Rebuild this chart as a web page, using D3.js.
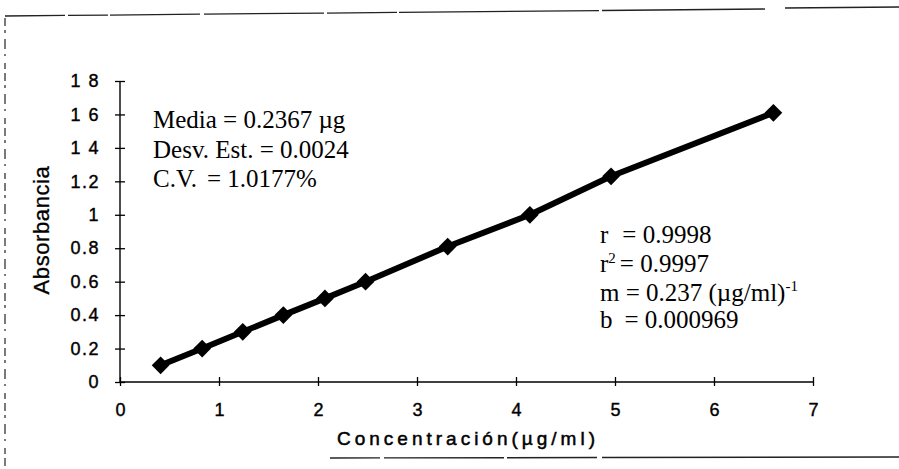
<!DOCTYPE html>
<html>
<head>
<meta charset="utf-8">
<script src="https://cdn.jsdelivr.net/npm/d3@7"></script>
<style>
  html, body { margin: 0; padding: 0; background: #fff; }
  svg { display: block; }
</style>
</head>
<body>
<svg id="chart" width="899" height="469"></svg>
<script>
// Calibration data: concentration (µg/ml) vs absorbance
const concentracion = [0.41, 0.83, 1.24, 1.65, 2.07, 2.48, 3.31, 4.14, 4.96, 6.60];
const absorbancia   = [0.10, 0.20, 0.30, 0.40, 0.50, 0.60, 0.81, 1.00, 1.23, 1.61];

const xTicks = [0, 1, 2, 3, 4, 5, 6, 7];
const yTicks = [0, 0.2, 0.4, 0.6, 0.8, 1, 1.2, 1.4, 1.6, 1.8];
const yTickLabels = ["0", "0.2", "0.4", "0.6", "0.8", "1", "1.2", "1 4", "1 6", "1 8"];

const statsLeft = ["Media = 0.2367 µg", "Desv. Est. = 0.0024", "C.V.  = 1.0177%"];

const svg = d3.select("#chart");
const sans = "Liberation Sans, Arial, sans-serif";
const serif = "Liberation Serif, Times New Roman, serif";

const x = d3.scaleLinear().domain([0, 7]).range([120, 813]);
const y = d3.scaleLinear().domain([0, 1.8]).range([382, 81]);

// Page frame (broken scanned border)
const frame = svg.append("g").attr("stroke", "#222").attr("fill", "none");
frame.append("line").attr("x1", 5).attr("y1", 16).attr("x2", 765).attr("y2", 9)
  .attr("stroke-width", 1.3).attr("stroke-dasharray", "60 3 40 2 90 4 120 3 70 2 200 3 180");
frame.append("line").attr("x1", 785).attr("y1", 8).attr("x2", 899).attr("y2", 7)
  .attr("stroke-width", 1.3);
frame.append("line").attr("x1", 5).attr("y1", 18).attr("x2", 5).attr("y2", 469)
  .attr("stroke-width", 1.2).attr("stroke-dasharray", "8 4 3 6 10 5 2 7 6 4");
frame.append("line").attr("x1", 330).attr("y1", 458).attr("x2", 899).attr("y2", 457)
  .attr("stroke-width", 1.4).attr("stroke-dasharray", "50 4 120 3 90 5 300");

// Y axis with crossing tick marks
const yAxis = d3.axisLeft(y).tickValues(yTicks)
  .tickFormat((d, i) => yTickLabels[i]).tickSize(5).tickPadding(15);
const gy = svg.append("g").attr("transform", `translate(${x(0)},0)`).call(yAxis);
gy.select(".domain").attr("d", `M0,${y(0)}V${y(1.8)}`).attr("stroke", "#000").attr("stroke-width", 1.4);
gy.selectAll(".tick line").attr("x1", -5).attr("x2", 5).attr("stroke", "#000").attr("stroke-width", 1.3);
gy.selectAll(".tick text").attr("font-family", sans)
  .attr("font-size", 18).attr("fill", "#000").attr("stroke", "#000").attr("stroke-width", 0.4)
  .attr("letter-spacing", 1.5);

// X axis with crossing tick marks
const xAxis = d3.axisBottom(x).tickValues(xTicks).tickSize(5).tickPadding(16).tickFormat(d3.format("d"));
const gx = svg.append("g").attr("transform", `translate(0,${y(0)})`).call(xAxis);
gx.select(".domain").attr("d", `M${x(0)},0H${x(7)}`).attr("stroke", "#000").attr("stroke-width", 1.4);
gx.selectAll(".tick line").attr("y1", -5).attr("y2", 4).attr("stroke", "#000").attr("stroke-width", 1.3);
gx.selectAll(".tick text").attr("font-family", sans)
  .attr("font-size", 18).attr("fill", "#000").attr("stroke", "#000").attr("stroke-width", 0.4);

// Axis titles
svg.append("text")
  .attr("transform", `translate(49,230) rotate(-90)`)
  .attr("text-anchor", "middle")
  .attr("font-family", sans)
  .attr("font-size", 22).attr("letter-spacing", 0.6)
  .attr("stroke", "#000").attr("stroke-width", 0.3)
  .text("Absorbancia");

svg.append("text")
  .attr("x", 468).attr("y", 445)
  .attr("text-anchor", "middle")
  .attr("font-family", sans)
  .attr("font-size", 19).attr("letter-spacing", 4)
  .attr("stroke", "#000").attr("stroke-width", 0.5)
  .text("Concentración(µg/ml)");

// Calibration line and markers
const pts = concentracion.map((c, i) => [c, absorbancia[i]]);
svg.append("path")
  .datum(pts)
  .attr("fill", "none").attr("stroke", "#000").attr("stroke-width", 6)
  .attr("stroke-linejoin", "round")
  .attr("d", d3.line().x(d => x(d[0])).y(d => y(d[1])));

svg.append("g").selectAll("path").data(pts).join("path")
  .attr("transform", d => `translate(${x(d[0])},${y(d[1])})`)
  .attr("d", d3.symbol(d3.symbolDiamond2, 200))
  .attr("fill", "#000");

// Statistics text blocks
const left = svg.append("g").attr("font-family", serif).attr("font-size", 25).attr("fill", "#000");
left.append("text").attr("x", 153).attr("y", 128).text(statsLeft[0]);
left.append("text").attr("x", 153).attr("y", 157.5).text(statsLeft[1]);
const l2 = left.append("text").attr("x", 153).attr("y", 187);
l2.append("tspan").text("C.V.");
l2.append("tspan").attr("dx", 10).text("= 1.0177%");

const right = svg.append("g").attr("font-family", serif).attr("font-size", 25).attr("fill", "#000");
const r1 = right.append("text").attr("x", 600).attr("y", 243);
r1.append("tspan").text("r");
r1.append("tspan").attr("dx", 14).text("= 0.9998");
const r2 = right.append("text").attr("x", 600).attr("y", 272);
r2.append("tspan").text("r");
r2.append("tspan").attr("dy", -9).attr("font-size", 15).text("2");
r2.append("tspan").attr("dy", 9).attr("dx", 4).text("= 0.9997");
const m = right.append("text").attr("x", 600).attr("y", 301);
m.append("tspan").text("m = 0.237 (µg/ml)");
m.append("tspan").attr("dy", -10).attr("font-size", 15).text("-1");
const b = right.append("text").attr("x", 600).attr("y", 328);
b.append("tspan").text("b");
b.append("tspan").attr("dx", 12).text("= 0.000969");
</script>
</body>
</html>
